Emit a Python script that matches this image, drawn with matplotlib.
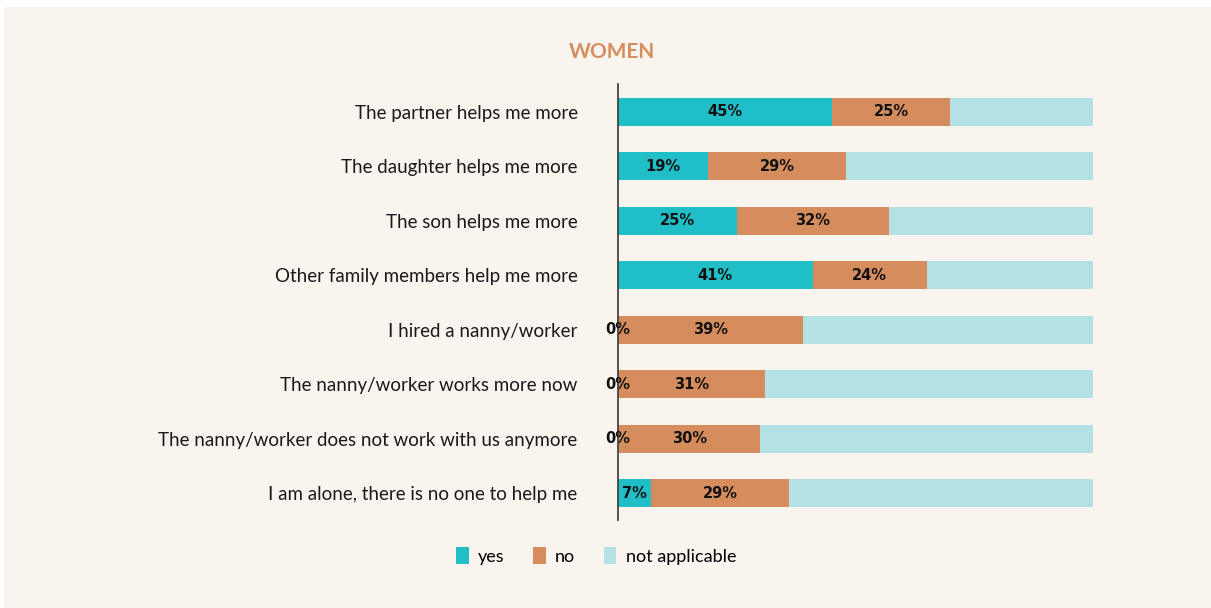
import matplotlib.pyplot as plt
import numpy as np
from matplotlib.patches import Rectangle

categories = [
    "The partner helps me more",
    "The daughter helps me more",
    "The son helps me more",
    "Other family members help me more",
    "I hired a nanny/worker",
    "The nanny/worker works more now",
    "The nanny/worker does not work with us anymore",
    "I am alone, there is no one to help me",
]
yes = [45, 19, 25, 41, 0, 0, 0, 7]
no = [25, 29, 32, 24, 39, 31, 30, 29]
not_applicable = [30, 52, 43, 35, 61, 69, 70, 64]
series_names = ["yes", "no", "not applicable"]
colors = ["#20bec6", "#d68d5e", "#b4e1e3"]
bg = "#f9f4ee"

plt.rcParams['font.family'] = ['Lato', 'DejaVu Sans']

fig = plt.figure(figsize=(12.11, 6.08), dpi=100)
fig.patch.set_facecolor("white")
# beige panel
fig.patches.append(Rectangle((4 / 1211, 0), 1207 / 1211, 601 / 608,
                             transform=fig.transFigure, facecolor=bg,
                             edgecolor="none", zorder=-1))

ax = fig.add_axes([0.5103, 0.1447, 0.3922, 0.7171])
ax.patch.set_alpha(0)

y = np.arange(len(categories))
left = np.zeros(len(categories))
for vals, name, c in zip([yes, no, not_applicable], series_names, colors):
    vals = np.array(vals, dtype=float)
    ax.barh(y, vals, left=left, height=0.51, color=c, label=name)
    if name != "not applicable":
        for yi, l, v in zip(y, left, vals):
            ax.text(l + v / 2, yi, f"{int(v)}%", ha="center", va="center",
                    fontsize=10.5, fontweight="bold", color="#111111",
                    family="DejaVu Sans")
    left += vals

ax.set_xlim(0, 100)
ax.set_ylim(7.49, -0.51)
ax.set_yticks(y)
ax.set_yticklabels(categories, fontsize=13.5, color="#1a1a1a")
ax.tick_params(axis="y", length=0, pad=29)
ax.set_xticks([])
for s in ["top", "right", "bottom"]:
    ax.spines[s].set_visible(False)
ax.spines["left"].set_color("#444444")
ax.spines["left"].set_linewidth(1.3)

fig.text(612 / 1211, 1 - 52 / 608, "WOMEN", ha="center", va="center",
         fontsize=15, fontweight="bold", color="#d68d5e")

fig.legend(loc="center", bbox_to_anchor=(596 / 1211, 1 - 556 / 608), ncol=3,
           frameon=False, fontsize=13, handlelength=0.7, handleheight=1.05,
           handletextpad=0.5, columnspacing=1.6)

fig.savefig("out.png", dpi=100, facecolor=fig.get_facecolor())
